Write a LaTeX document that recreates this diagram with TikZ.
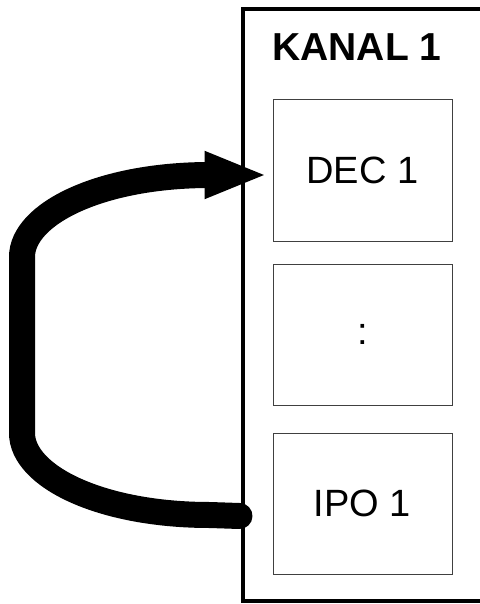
\documentclass[tikz,border=0pt]{standalone}
\usepackage{fontspec}
\setsansfont{Liberation Sans}
\usetikzlibrary{arrows.meta, positioning}
\definecolor{cbox}{HTML}{404040}
\tikzset{
  every picture/.style={font=\sffamily, x=1pt, y=-1pt},
  unit/.style={draw=cbox, line width=1pt, minimum width=179pt, minimum height=141pt, inner sep=0pt, font=\fontsize{38}{44}\sffamily},
  frame/.style={draw=black, line width=4pt},
  flow/.style={-{Triangle[length=63pt, width=43pt]}, line width=26pt, line cap=round},
  title/.style={font=\fontsize{39}{46}\sffamily\bfseries},
}

\begin{document}
\begin{tikzpicture}
  \useasboundingbox (0,0) rectangle (479,604);
  \draw[frame] (243,9) rectangle (500,601);
  \node[title] (title) at (357,47) {KANAL 1};
  \node[unit] (dec) at (362.5,170.5) {DEC 1};
  \node[unit, below=22pt of dec] (dots) {:};
  \node[unit, below=27pt of dots] (ipo) {IPO 1};
  \coordinate (src) at ([shift={(-33,12.5)}]ipo.west);
  \coordinate (dst) at ([shift={(-5,4.5)}]dec.west);
  \draw[flow] (src) -- (210,515) .. controls (100,515) and (22,476) .. (22,433)
    -- (22,257) .. controls (22,214) and (100,175) .. (210,175) -- (dst);
\end{tikzpicture}
\end{document}
